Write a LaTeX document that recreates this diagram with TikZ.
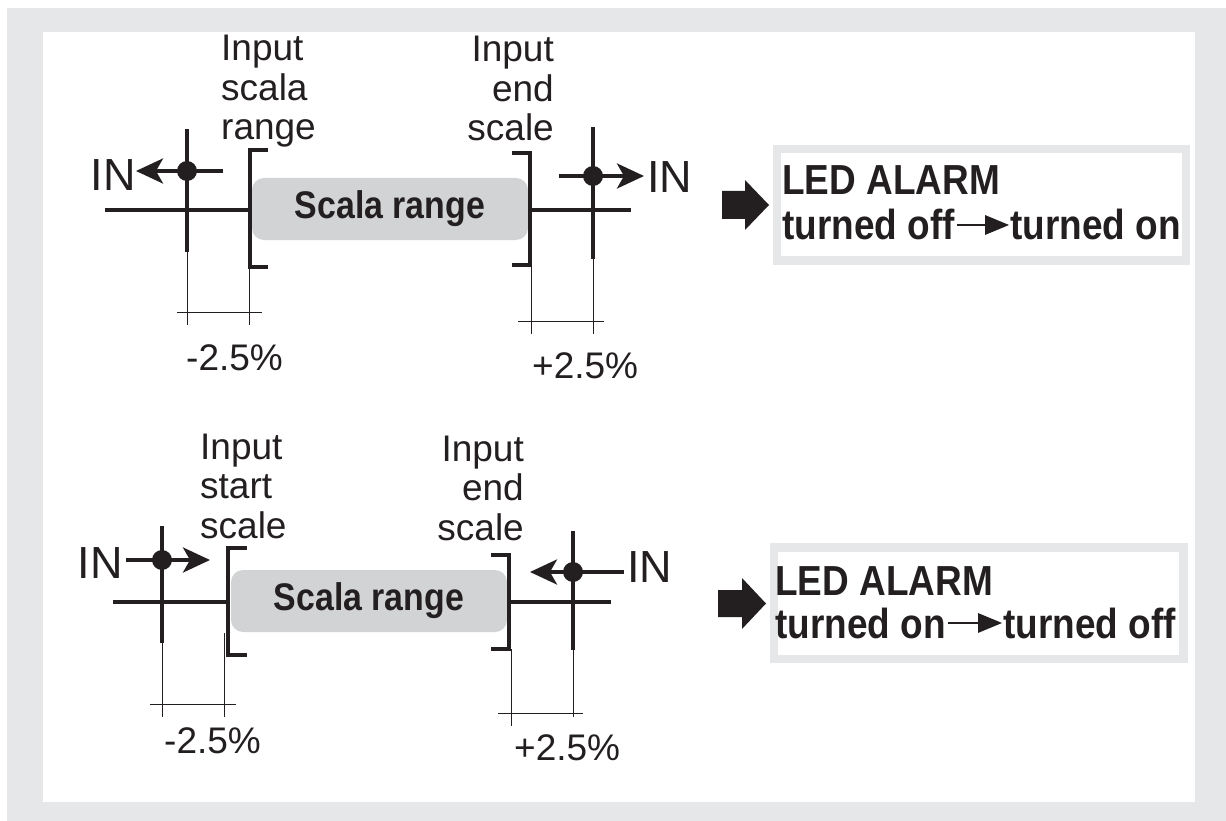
\documentclass[tikz,border=0pt]{standalone}
\usepackage{fontspec}
\setmainfont{Liberation Sans}
\newfontfamily\condsans{Liberation Sans}[FakeStretch=0.88]
\usetikzlibrary{arrows.meta}
\definecolor{framegray}{RGB}{230,231,232}
\definecolor{rangegray}{RGB}{209,211,212}
\definecolor{inkblack}{RGB}{35,31,32}
\tikzset{
  thickln/.style={draw=inkblack, line width=3.6pt},
  thinln/.style={draw=inkblack, line width=1pt},
  bracketln/.style={draw=inkblack, line width=3.4pt, line join=miter},
  indot/.style={circle, fill=inkblack, inner sep=0pt, minimum size=20pt},
  inarrow/.style={thickln, -{Stealth[length=27pt, width=25pt, inset=7pt]}},
  rangebox/.style={fill=rangegray, rounded corners=12pt, minimum width=276pt, minimum height=62pt, inner sep=0pt, text=inkblack, font=\condsans\fontsize{38.5}{40}\selectfont\bfseries},
  lbltext/.style={inner sep=0pt, text=inkblack, font=\fontsize{37}{39.5}\selectfont},
  intext/.style={inner sep=0pt, text=inkblack, font=\fontsize{45}{45}\selectfont},
  pcttext/.style={inner sep=0pt, text=inkblack, font=\fontsize{37}{37}\selectfont},
  ledtext/.style={inner sep=0pt, text=inkblack, font=\condsans\fontsize{42}{45}\selectfont\bfseries},
  ledarrow/.style={draw=inkblack, line width=2.8pt, shorten <=2pt, shorten >=1pt, -{Triangle[length=24pt, width=19pt]}},
  ledframe/.style={draw=framegray, line width=8.5pt, fill=white},
  blockarrow/.style={fill=inkblack},
}
\begin{document}
\begin{tikzpicture}[x=1pt, y=-1pt]
    \useasboundingbox (0,0) rectangle (1226,821);
    \fill[framegray] (7,8) rectangle (1226,821);
    \fill[white] (43,32) rectangle (1195,802);
    % upper scale
    \node[rangebox] (rangeA) at (390,209) {Scala range};
    \draw[thickln] (105,210) -- (250,210);
    \draw[thickln] (530,210) -- (631,210);
    \draw[thickln] (187,129) -- (187,252);
    \draw[thickln] (593,127) -- (593,259);
    \draw[bracketln] (268,150) -- (250,150) -- (250,267) -- (268,267);
    \draw[bracketln] (512,153) -- (530,153) -- (530,265) -- (512,265);
    \draw[thinln] (187,252) -- (187,325);
    \draw[thinln] (249,267) -- (249,325);
    \draw[thinln] (177,312) -- (262,312);
    \draw[thinln] (531,265) -- (531,334);
    \draw[thinln] (593,259) -- (593,334);
    \draw[thinln] (518,321) -- (604,321);
    \node[indot] (dotA1) at (187,171) {};
    \node[indot] (dotA2) at (593,176) {};
    \node[intext, anchor=base east] (inA1) at (136,191) {IN};
    \node[intext, anchor=base west] (inA2) at (647,193) {IN};
    \coordinate (tailA1) at (223,171);
    \coordinate (tailA2) at (559,176);
    \draw[inarrow] (tailA1) -- (inA1.east |- dotA1);
    \draw[inarrow, shorten >=3pt] (tailA2) -- (inA2.west |- dotA2);
    \node[lbltext, align=left, anchor=base west] (startA) at (221,140) {Input\\scala\\range};
    \node[lbltext, align=right, anchor=base east] (endA) at (554,141) {Input\\end\\scale};
    \node[pcttext, anchor=base west] (minusA) at (186,370) {-2.5\%};
    \node[pcttext, anchor=base west] (plusA) at (532,378) {+2.5\%};
    \draw[ledframe] (777,149) rectangle (1186,260.5);
    \fill[blockarrow] (722,191) -- (745,191) -- (745,180) -- (769,205) -- (745,230) -- (745,219) -- (722,219) -- cycle;
    \node[ledtext, anchor=base west] (ledA) at (782,195) {LED ALARM};
    \node[ledtext, anchor=base west] (offA) at (782,240) {turned off};
    \node[ledtext, anchor=base east] (onA) at (1181,240) {turned on};
    \draw[ledarrow] (offA) -- (onA);
    % lower scale
    \node[rangebox] (rangeB) at (369,601) {Scala range};
    \draw[thickln] (113,602) -- (228,602);
    \draw[thickln] (509,602) -- (611,602);
    \draw[thickln] (162,526) -- (162,643);
    \draw[thickln] (573,531) -- (573,650);
    \draw[bracketln] (247,548) -- (228,548) -- (228,655) -- (247,655);
    \draw[bracketln] (491,555) -- (509,555) -- (509,649) -- (491,649);
    \draw[thinln] (162,643) -- (162,717);
    \draw[thinln] (224,633) -- (224,717);
    \draw[thinln] (150,704) -- (236,704);
    \draw[thinln] (511,649) -- (511,726);
    \draw[thinln] (573,650) -- (573,717);
    \draw[thinln] (498,713) -- (583,713);
    \node[indot] (dotB1) at (162,560) {};
    \node[indot] (dotB2) at (573,572) {};
    \node[intext, anchor=base east] (inB1) at (123,578) {IN};
    \node[intext, anchor=base west] (inB2) at (627,582) {IN};
    \coordinate (tipB1) at (210,560);
    \coordinate (tipB2) at (530,572);
    \draw[inarrow, shorten <=3pt] (inB1.east |- dotB1) -- (tipB1);
    \draw[inarrow, shorten <=3pt] (inB2.west |- dotB2) -- (tipB2);
    \node[lbltext, align=left, anchor=base west] (startB) at (200,538) {Input\\start\\scale};
    \node[lbltext, align=right, anchor=base east] (endB) at (524,540) {Input\\end\\scale};
    \node[pcttext, anchor=base west] (minusB) at (164,753) {-2.5\%};
    \node[pcttext, anchor=base west] (plusB) at (514,760) {+2.5\%};
    \draw[ledframe] (774,547.5) rectangle (1183.5,659);
    \fill[blockarrow] (718,590) -- (742,590) -- (742,578) -- (766,603.5) -- (742,629) -- (742,617) -- (718,617) -- cycle;
    \node[ledtext, anchor=base west] (ledB) at (775,595) {LED ALARM};
    \node[ledtext, anchor=base west] (onB) at (775,638) {turned on};
    \node[ledtext, anchor=base east] (offB) at (1176,638) {turned off};
    \draw[ledarrow] (onB) -- (offB);
\end{tikzpicture}
\end{document}
